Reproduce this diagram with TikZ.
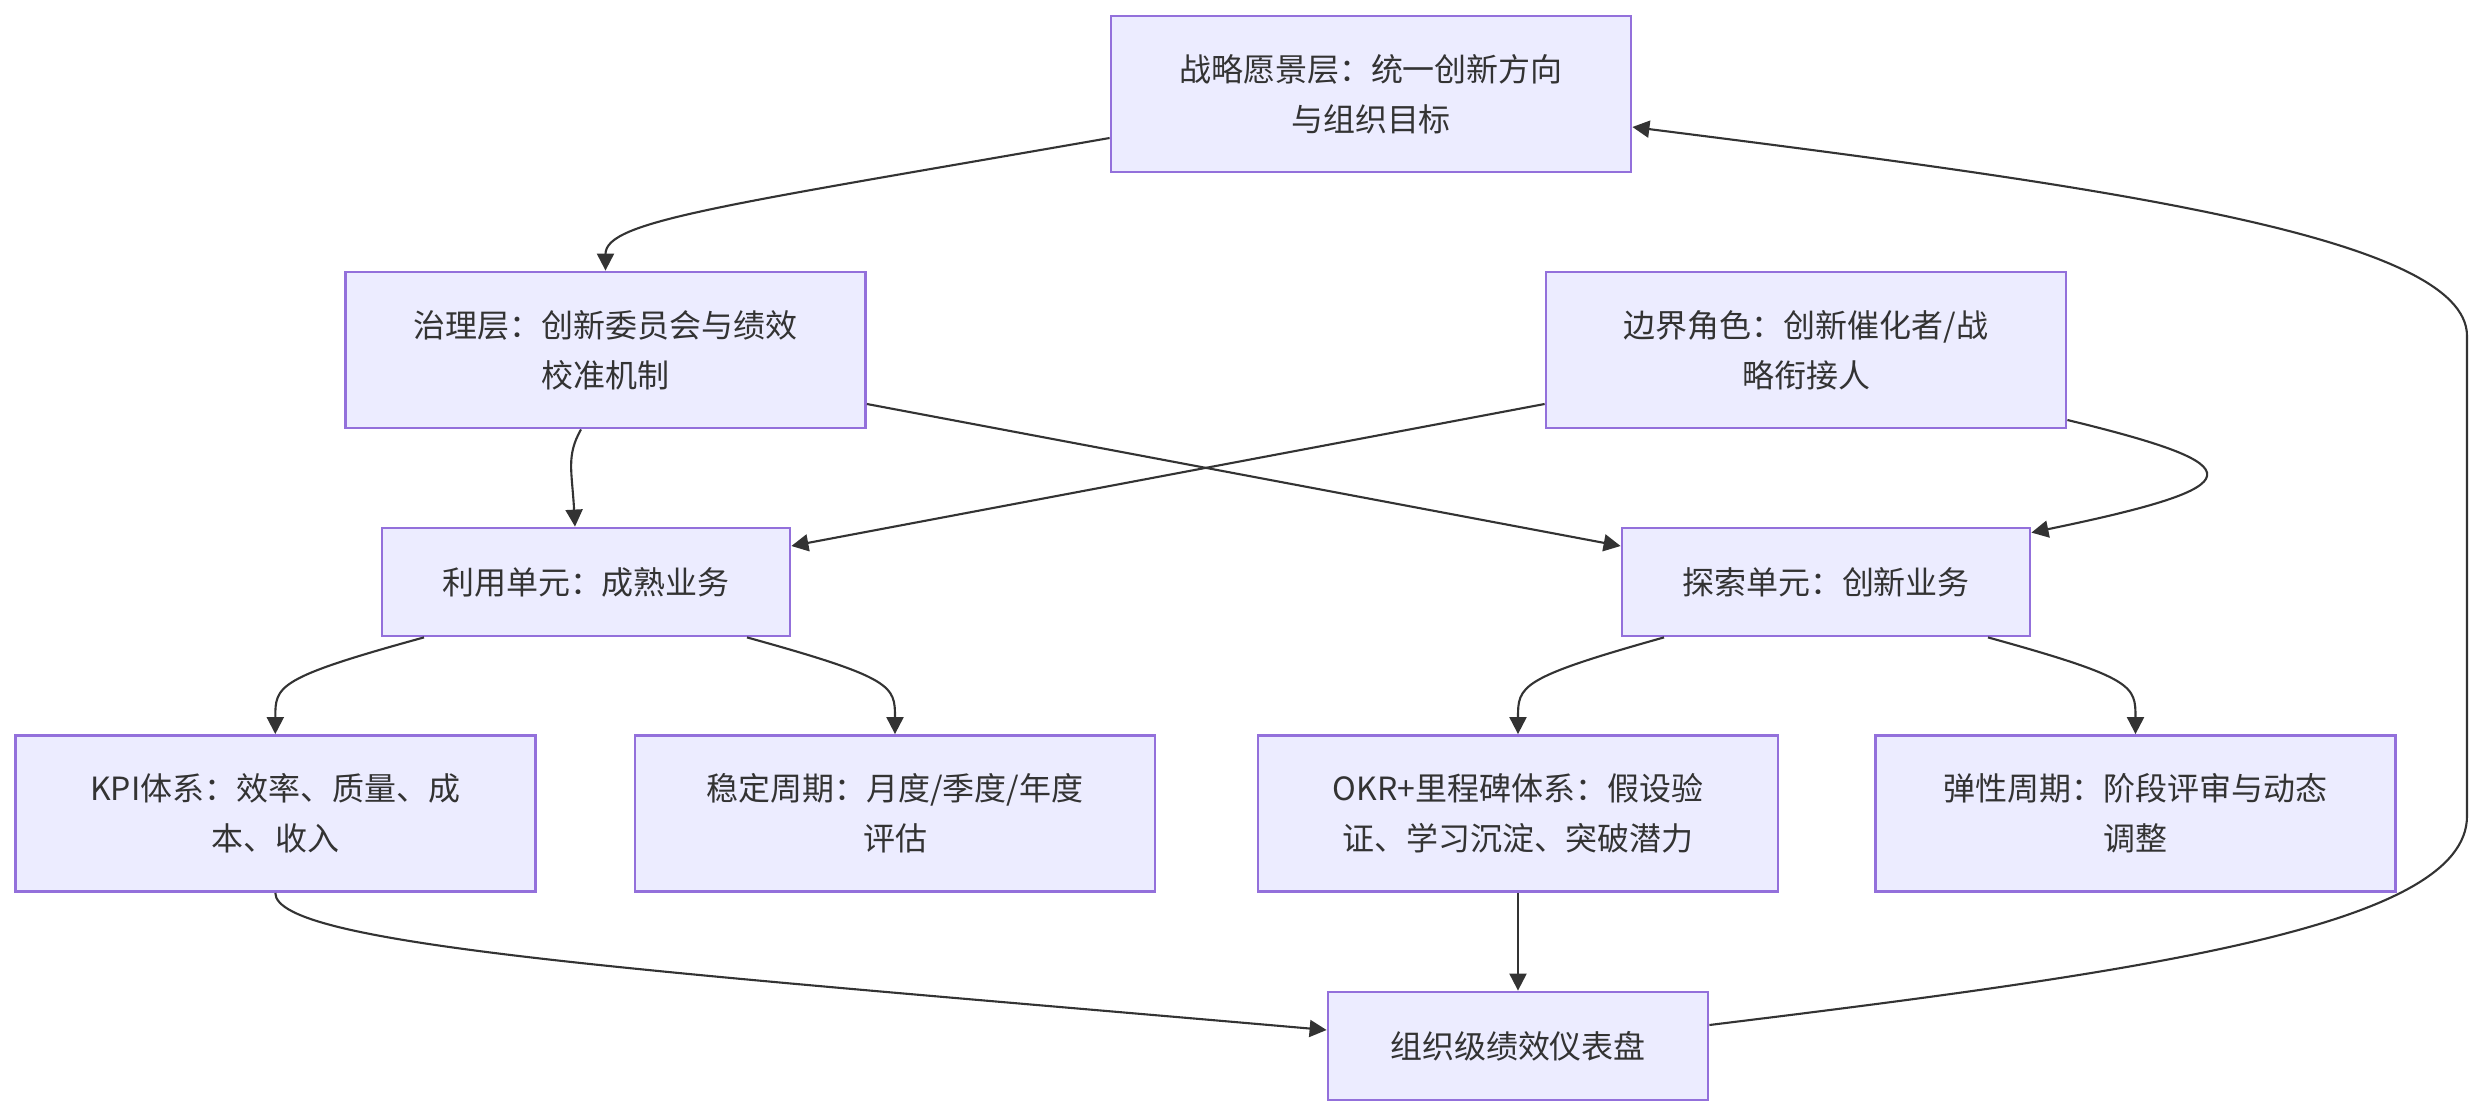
\documentclass[tikz,border=0pt]{standalone}
\usepackage{fontspec}
\setmainfont{Noto Sans CJK SC}
\usepackage{tikz}
\usetikzlibrary{arrows.meta,calc,positioning}
\definecolor{boxfill}{HTML}{ECECFF}
\definecolor{boxline}{HTML}{9370DB}
\definecolor{inkgray}{HTML}{333333}

\begin{document}
\begin{tikzpicture}[
    box/.style={draw=boxline, fill=boxfill, line width=0.8pt, align=center, inner sep=0pt,
      text=inkgray, font=\fontsize{9.1}{14.2}\selectfont, minimum width=5.2cm, minimum height=1.56cm},
    unit/.style={box, minimum width=4.08cm, minimum height=1.08cm},
    link/.style={-{Triangle[length=0.17cm, width=0.17cm]}, inkgray, line width=0.6pt}
  ]
  \useasboundingbox (0,0) rectangle (24.82,11.16);
  \node[box] (vision) at (13.71,10.22) {战略愿景层：统一创新方向\\与组织目标};
  \node[box] (gov) at (6.055,7.66) {治理层：创新委员会与绩效\\校准机制};
  \node[box] (boundary) at (18.06,7.66) {边界角色：创新催化者/战\\略衔接人};
  \node[unit] (exploit) at (5.86,5.34) {利用单元：成熟业务};
  \node[unit] (explore) at (18.26,5.34) {探索单元：创新业务};
  \node[box] (kpi) at (2.753,3.025) {KPI体系：效率、质量、成\\本、收入};
  \node[box] (stable) at (8.95,3.025) {稳定周期：月度/季度/年度\\评估};
  \node[box] (okr) at (15.18,3.025) {OKR+里程碑体系：假设验\\证、学习沉淀、突破潜力};
  \node[box] (flex) at (21.355,3.025) {弹性周期：阶段评审与动态\\调整};
  \node[unit, minimum width=3.8cm] (dash) at (15.18,0.70) {组织级绩效仪表盘};

  \draw[link] ([yshift=-0.44cm]vision.west) .. controls (7.2,9.1) and (6.055,8.95) .. (gov.north);
  \draw[link] ([xshift=-0.245cm]gov.south) .. controls (5.66,6.6) and (5.72,6.45) .. ([xshift=-0.11cm]exploit.north);
  \draw[link] ([yshift=-0.54cm]gov.east) -- ([yshift=0.36cm]explore.west);
  \draw[link] ([yshift=-0.54cm]boundary.west) -- ([yshift=0.36cm]exploit.east);
  \draw[link] ([yshift=-0.70cm]boundary.east) .. controls (22.57,6.5) and (22.57,6.3) .. ([yshift=-0.06cm]explore.north east);
  \draw[link] ([xshift=-1.62cm]exploit.south) .. controls (2.76,4.38) and (2.753,4.3) .. (kpi.north);
  \draw[link] ([xshift=1.61cm]exploit.south) .. controls (8.94,4.38) and (8.95,4.3) .. (stable.north);
  \draw[link] ([xshift=-1.62cm]explore.south) .. controls (15.19,4.38) and (15.18,4.3) .. (okr.north);
  \draw[link] ([xshift=1.62cm]explore.south) .. controls (21.35,4.38) and (21.355,4.3) .. (flex.north);
  \draw[link] (okr.south) -- (dash.north);
  \draw[link] (kpi.south) .. controls (2.753,1.7) and (6.5,1.45) .. ([yshift=0.16cm]dash.west);
  \draw[link] ([yshift=0.21cm]dash.east) .. controls (21.5,1.45) and (24.67,1.9) .. (24.67,3.0)
    -- (24.67,7.8) .. controls (24.67,8.8) and (21,9.3) .. ([yshift=-0.33cm]vision.east);
\end{tikzpicture}
\end{document}
